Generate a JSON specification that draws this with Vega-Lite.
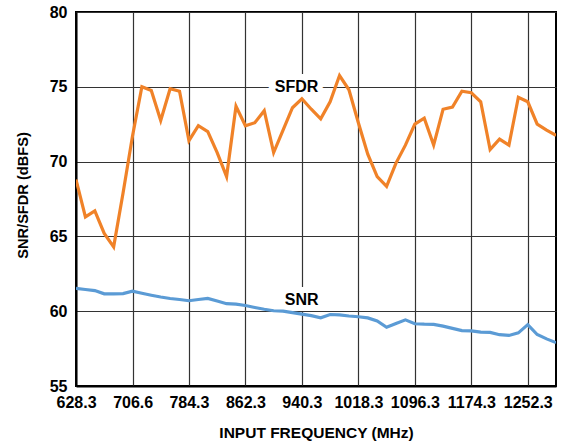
{
  "$schema": "https://vega.github.io/schema/vega-lite/v6.json",
  "autosize": "none",
  "width": 480,
  "height": 374,
  "padding": {"left": 76, "top": 12, "right": 8, "bottom": 58},
  "background": "white",
  "config": {
    "view": {"stroke": "#000000", "strokeWidth": 2},
    "font": "Liberation Sans"
  },
  "datasets": {
    "curves": [
      {"i":0,"SFDR":68.8,"SNR":61.52},{"i":1,"SFDR":66.3,"SNR":61.45},{"i":2,"SFDR":66.7,"SNR":61.38},{"i":3,"SFDR":65.2,"SNR":61.16},
      {"i":4,"SFDR":64.3,"SNR":61.16},{"i":5,"SFDR":67.9,"SNR":61.18},{"i":6,"SFDR":71.7,"SNR":61.34},{"i":7,"SFDR":75.0,"SNR":61.2},
      {"i":8,"SFDR":74.75,"SNR":61.07},{"i":9,"SFDR":72.75,"SNR":60.95},{"i":10,"SFDR":74.87,"SNR":60.85},{"i":11,"SFDR":74.7,"SNR":60.78},
      {"i":12,"SFDR":71.4,"SNR":60.7},{"i":13,"SFDR":72.4,"SNR":60.78},{"i":14,"SFDR":72.0,"SNR":60.85},{"i":15,"SFDR":70.6,"SNR":60.68},
      {"i":16,"SFDR":69.0,"SNR":60.5},{"i":17,"SFDR":73.7,"SNR":60.47},{"i":18,"SFDR":72.4,"SNR":60.38},{"i":19,"SFDR":72.6,"SNR":60.25},
      {"i":20,"SFDR":73.4,"SNR":60.13},{"i":21,"SFDR":70.6,"SNR":60.03},{"i":22,"SFDR":72.1,"SNR":60.0},{"i":23,"SFDR":73.6,"SNR":59.9},
      {"i":24,"SFDR":74.2,"SNR":59.8},{"i":25,"SFDR":73.5,"SNR":59.7},{"i":26,"SFDR":72.86,"SNR":59.56},{"i":27,"SFDR":74.0,"SNR":59.78},
      {"i":28,"SFDR":75.75,"SNR":59.75},{"i":29,"SFDR":74.8,"SNR":59.68},{"i":30,"SFDR":72.6,"SNR":59.63},{"i":31,"SFDR":70.5,"SNR":59.55},
      {"i":32,"SFDR":69.0,"SNR":59.35},{"i":33,"SFDR":68.35,"SNR":58.93},{"i":34,"SFDR":69.9,"SNR":59.18},{"i":35,"SFDR":71.1,"SNR":59.42},
      {"i":36,"SFDR":72.5,"SNR":59.16},{"i":37,"SFDR":72.9,"SNR":59.13},{"i":38,"SFDR":71.1,"SNR":59.12},{"i":39,"SFDR":73.5,"SNR":59.0},
      {"i":40,"SFDR":73.65,"SNR":58.85},{"i":41,"SFDR":74.7,"SNR":58.7},{"i":42,"SFDR":74.6,"SNR":58.68},{"i":43,"SFDR":74.0,"SNR":58.6},
      {"i":44,"SFDR":70.8,"SNR":58.58},{"i":45,"SFDR":71.5,"SNR":58.43},{"i":46,"SFDR":71.1,"SNR":58.38},{"i":47,"SFDR":74.3,"SNR":58.55},
      {"i":48,"SFDR":74.0,"SNR":59.1},{"i":49,"SFDR":72.5,"SNR":58.44},{"i":50,"SFDR":72.1,"SNR":58.15},{"i":51,"SFDR":71.75,"SNR":57.9}
    ],
    "labels": [
      {"label":"SFDR","freq":933,"value":75.0},
      {"label":"SNR","freq":940,"value":60.78}
    ]
  },
  "encoding": {
    "x": {
      "field": "freq",
      "type": "quantitative",
      "scale": {"domain": [628.3, 1291.3], "nice": false, "zero": false},
      "axis": {
        "values": [628.3, 706.6, 784.3, 862.3, 940.3, 1018.3, 1096.3, 1174.3, 1252.3],
        "format": ".1f",
        "title": "INPUT FREQUENCY (MHz)",
        "titleFont": "Liberation Sans", "titleFontSize": 15.5, "titleFontWeight": "bold", "titleColor": "#000000",
        "titleY": 46, "titleBaseline": "middle",
        "labelFont": "Liberation Sans", "labelFontSize": 16, "labelFontWeight": "bold", "labelColor": "#000000",
        "labelPadding": 8, "ticks": false, "tickSize": 0,
        "labelOverlap": false, "labelFlush": false,
        "domainColor": "#000000", "domainWidth": 2,
        "grid": true, "gridColor": "#333333", "gridWidth": 1.2, "gridOpacity": 1
      }
    },
    "y": {
      "field": "value",
      "type": "quantitative",
      "scale": {"domain": [55, 80], "nice": false, "zero": false},
      "axis": {
        "values": [55, 60, 65, 70, 75, 80],
        "title": "SNR/SFDR (dBFS)",
        "titleFont": "Liberation Sans", "titleFontSize": 14.6, "titleFontWeight": "bold", "titleColor": "#000000",
        "titleX": -53, "titleY": 183, "titleBaseline": "middle", "titleAngle": -90,
        "labelFont": "Liberation Sans", "labelFontSize": 16, "labelFontWeight": "bold", "labelColor": "#000000",
        "labelPadding": 9, "ticks": false, "tickSize": 0,
        "labelOverlap": false, "labelFlush": false,
        "domainColor": "#000000", "domainWidth": 2,
        "grid": true, "gridColor": "#333333", "gridWidth": 1.2, "gridOpacity": 1
      }
    }
  },
  "layer": [
    {
      "data": {"name": "labels"},
      "mark": {"type": "text", "font": "Liberation Sans", "fontSize": 16, "fontWeight": "bold", "fill": "white", "stroke": "white", "strokeWidth": 12, "strokeJoin": "miter", "align": "center", "baseline": "middle"},
      "encoding": {"text": {"field": "label"}}
    },
    {
      "data": {"name": "curves"},
      "transform": [
        {"fold": ["SFDR", "SNR"], "as": ["series", "value"]},
        {"lookup": "i", "from": {"data": {"values": [
          {"i":0,"freq":628.3},{"i":1,"freq":641.3},{"i":2,"freq":654.3},{"i":3,"freq":667.3},{"i":4,"freq":680.3},{"i":5,"freq":693.3},
          {"i":6,"freq":706.3},{"i":7,"freq":719.3},{"i":8,"freq":732.3},{"i":9,"freq":745.3},{"i":10,"freq":758.3},{"i":11,"freq":771.3},
          {"i":12,"freq":784.3},{"i":13,"freq":797.3},{"i":14,"freq":810.3},{"i":15,"freq":823.3},{"i":16,"freq":836.3},{"i":17,"freq":849.3},
          {"i":18,"freq":862.3},{"i":19,"freq":875.3},{"i":20,"freq":888.3},{"i":21,"freq":901.3},{"i":22,"freq":914.3},{"i":23,"freq":927.3},
          {"i":24,"freq":940.3},{"i":25,"freq":953.3},{"i":26,"freq":966.3},{"i":27,"freq":979.3},{"i":28,"freq":992.3},{"i":29,"freq":1005.3},
          {"i":30,"freq":1018.3},{"i":31,"freq":1031.3},{"i":32,"freq":1044.3},{"i":33,"freq":1057.3},{"i":34,"freq":1070.3},{"i":35,"freq":1083.3},
          {"i":36,"freq":1096.3},{"i":37,"freq":1109.3},{"i":38,"freq":1122.3},{"i":39,"freq":1135.3},{"i":40,"freq":1148.3},{"i":41,"freq":1161.3},
          {"i":42,"freq":1174.3},{"i":43,"freq":1187.3},{"i":44,"freq":1200.3},{"i":45,"freq":1213.3},{"i":46,"freq":1226.3},{"i":47,"freq":1239.3},
          {"i":48,"freq":1252.3},{"i":49,"freq":1265.3},{"i":50,"freq":1278.3},{"i":51,"freq":1291.3}
        ]}, "key": "i", "fields": ["freq"]}}
      ],
      "mark": {"type": "line", "strokeWidth": 3.2, "clip": true},
      "encoding": {
        "color": {
          "field": "series", "type": "nominal",
          "scale": {"domain": ["SFDR", "SNR"], "range": ["#F08228", "#5B9BD5"]},
          "legend": null
        },
        "order": {"field": "i", "type": "quantitative"}
      }
    },
    {
      "data": {"name": "labels"},
      "mark": {"type": "text", "font": "Liberation Sans", "fontSize": 16, "fontWeight": "bold", "fill": "#000000", "align": "center", "baseline": "middle"},
      "encoding": {"text": {"field": "label"}}
    }
  ]
}
